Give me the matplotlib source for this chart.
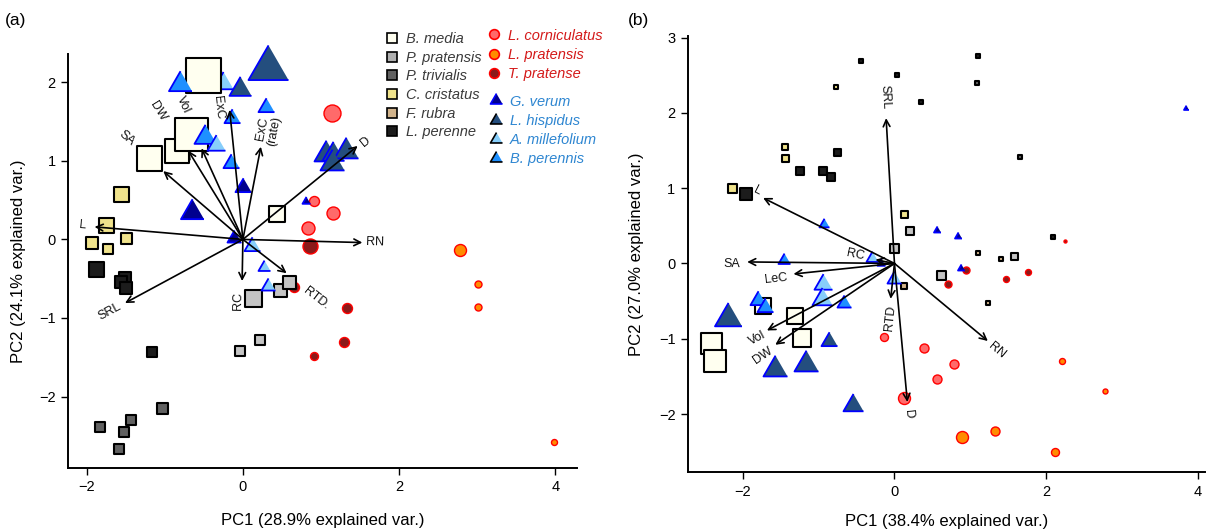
import numpy as np
import matplotlib
matplotlib.use("Agg")
import matplotlib.pyplot as plt
from matplotlib.lines import Line2D

plt.rcParams['font.family'] = ['Liberation Sans', 'DejaVu Sans']

# ---- panel (a): species code, PC1, PC2, marker width (px)
a_sp = ['Lc', 'Lc', 'Lc', 'Lc',
        'Lpr', 'Lpr', 'Lpr', 'Lpr',
        'Tp', 'Tp', 'Tp', 'Tp', 'Tp',
        'Am',
        'Bm', 'Bm', 'Bm', 'Bm', 'Bm',
        'Pp', 'Pp', 'Pp', 'Pp', 'Pp',
        'Pt', 'Pt', 'Pt', 'Pt', 'Pt',
        'Cc', 'Cc', 'Cc', 'Cc', 'Cc',
        'Lpe', 'Lpe', 'Lpe', 'Lpe', 'Lpe',
        'Bp', 'Bp', 'Bp', 'Bp', 'Bp',
        'Lh', 'Lh', 'Lh', 'Lh', 'Lh', 'Lh',
        'Am', 'Am', 'Am', 'Am',
        'Gv', 'Gv', 'Gv', 'Gv']
a_x = [1.14, 0.91, 1.16, 0.83,
       2.78, 3.01, 3.01, 3.98,
       0.86, 0.66, 1.33, 1.30, 0.91,
       -0.26,
       -0.51, -0.84, -0.67, -1.20, 0.44,
       0.13, 0.47, 0.59, 0.22, -0.04,
       -1.83, -1.59, -1.52, -1.43, -1.03,
       -1.56, -1.75, -1.93, -1.73, -1.50,
       -1.88, -1.51, -1.56, -1.50, -1.16,
       -0.80, 0.30, -0.14, -0.48, -0.15,
       -0.04, 0.32, 1.07, 1.15, 1.32, 1.14,
       -0.34, 0.12, 0.27, 0.32,
       0.00, -0.65, 0.81, -0.12]
a_y = [1.61, 0.49, 0.34, 0.15,
       -0.13, -0.57, -0.86, -2.58,
       -0.09, -0.60, -0.87, -1.31, -1.48,
       1.99,
       2.09, 1.13, 1.34, 1.04, 0.33,
       -0.74, -0.65, -0.54, -1.28, -1.42,
       -2.39, -2.67, -2.45, -2.30, -2.14,
       0.58, 0.19, -0.04, -0.12, 0.02,
       -0.38, -0.49, -0.54, -0.62, -1.43,
       1.98, 1.69, 1.54, 1.31, 0.97,
       1.91, 2.18, 1.09, 1.09, 1.12, 0.97,
       1.20, -0.09, -0.35, -0.59,
       0.67, 0.35, 0.49, 0.02]
a_w = [17, 10, 13, 13,
       12, 7, 7, 6,
       15, 10, 10, 10, 8,
       20,
       35, 24, 33, 25, 16,
       17, 13, 13, 10, 10,
       10, 10, 10, 10, 11,
       15, 15, 12, 10, 11,
       15, 12, 12, 12, 10,
       23, 16, 16, 22, 16,
       22, 40, 24, 22, 24, 24,
       18, 16, 12, 14,
       16, 23, 8, 14]

a_vars = ['L', 'SA', 'DW', 'Vol', 'ExC', 'ExC\n(rate)', 'D', 'RN', 'RTD.', 'RC', 'SRL']
a_vx = [-1.90, -1.02, -0.70, -0.53, -0.17, 0.23, 1.47, 1.53, 0.56, -0.01, -1.51]
a_vy = [0.16, 0.87, 1.13, 1.16, 1.65, 1.18, 1.19, -0.04, -0.43, -0.53, -0.81]
a_lx = [-2.05, -1.49, -1.09, -0.77, -0.32, 0.32, 1.57, 1.69, 0.94, -0.06, -1.71]
a_ly = [0.18, 1.29, 1.63, 1.71, 1.68, 1.39, 1.24, -0.03, -0.75, -0.78, -0.92]

# ---- panel (b)
b_sp = ['Lc', 'Lc', 'Lc', 'Lc', 'Lc',
        'Lpr', 'Lpr', 'Lpr', 'Lpr', 'Lpr',
        'Tp', 'Tp', 'Tp', 'Tp', 'Tp',
        'Lpe', 'Lpe', 'Lpe', 'Lpe', 'Lpe',
        'Pt', 'Pt',
        'Cc', 'Cc', 'Cc', 'Cc', 'Cc',
        'Lpe', 'Lpe', 'Lpe', 'Lpe', 'Lpe',
        'Pp', 'Pp', 'Pp', 'Pp',
        'Fr', 'Fr', 'Fr', 'Fr',
        'Bm', 'Bm', 'Bm', 'Bm', 'Bm',
        'Gv', 'Gv', 'Gv', 'Gv', 'Gv',
        'Bp', 'Bp', 'Bp', 'Bp', 'Bp',
        'Am', 'Am', 'Am', 'Am',
        'Lh', 'Lh', 'Lh', 'Lh', 'Lh']
b_x = [-0.14, 0.39, 0.78, 0.56, 0.12,
       2.21, 2.77, 0.89, 1.32, 2.11,
       0.94, 0.70, 1.47, 1.76, 2.25,
       -0.44, 0.04, 0.35, 1.10, 2.09,
       1.09, 1.65,
       -0.77, -1.44, -1.44, -2.14, 0.12,
       -1.24, -0.94, -0.83, -0.76, -1.95,
       0.20, 0.00, 1.58, 0.61,
       1.10, 1.40, 0.13, 1.23,
       -1.73, -1.31, -1.22, -2.41, -2.37,
       0.56, 0.84, 0.88, 3.84, -0.18,
       -0.93, -1.46, -0.67, -1.80, -1.70,
       -0.30, -0.01, -0.94, -0.96,
       -2.19, -0.86, -1.57, -1.16, -0.55]
b_y = [-0.98, -1.12, -1.34, -1.53, -1.79,
       -1.29, -1.69, -2.31, -2.22, -2.51,
       -0.09, -0.27, -0.20, -0.12, 0.30,
       2.69, 2.50, 2.15, 2.75, 0.35,
       2.39, 1.41,
       2.34, 1.55, 1.40, 1.00, 0.66,
       1.23, 1.23, 1.15, 1.48, 0.92,
       0.43, 0.20, 0.10, -0.16,
       0.14, 0.06, -0.30, -0.53,
       -0.56, -0.70, -0.99, -1.05, -1.30,
       0.45, 0.37, -0.06, 2.06, 0.00,
       0.52, 0.05, -0.52, -0.48, -0.58,
       0.07, -0.21, -0.27, -0.47,
       -0.72, -1.03, -1.40, -1.34, -1.88]
b_w = [8, 9, 9, 9, 12,
       6, 5, 12, 9, 8,
       7, 7, 6, 6, 3,
       4, 4, 4, 4, 4,
       5, 4,
       4, 6, 7, 9, 7,
       8, 8, 8, 7, 12,
       8, 9, 7, 9,
       5, 4, 6, 5,
       16, 16, 18, 21, 23,
       7, 7, 7, 5, 8,
       10, 12, 14, 16, 16,
       12, 14, 18, 20,
       27, 16, 24, 24, 20]

b_vars = ['SRL', 'L', 'SA', 'LeC', 'Vol', 'DW', 'RC', 'RTD', 'D', 'RN']
b_vx = [-0.11, -1.73, -1.94, -1.33, -1.68, -1.57, -0.25, -0.05, 0.17, 1.23]
b_vy = [1.93, 0.87, 0.02, -0.14, -0.89, -1.08, 0.05, -0.47, -1.84, -1.03]
b_lx = [-0.13, -1.81, -2.14, -1.56, -1.81, -1.73, -0.52, -0.06, 0.19, 1.35]
b_ly = [2.21, 0.96, -0.01, -0.20, -1.00, -1.23, 0.11, -0.72, -2.00, -1.16]

sq_names = ['B. media', 'P. pratensis', 'P. trivialis', 'C. cristatus', 'F. rubra', 'L. perenne']
sq_codes = ['Bm', 'Pp', 'Pt', 'Cc', 'Fr', 'Lpe']
ci_names = ['L. corniculatus', 'L. pratensis', 'T. pratense']
ci_codes = ['Lc', 'Lpr', 'Tp']
tr_names = ['G. verum', 'L. hispidus', 'A. millefolium', 'B. perennis']
tr_codes = ['Gv', 'Lh', 'Am', 'Bp']

TRI = [(0, 0.577), (-0.5, -0.289), (0.5, -0.289)]
style = {
    'Bm': ('s', '#FFFFF0', 'black', 1.5),
    'Pp': ('s', '#C4C4C4', 'black', 1.5),
    'Pt': ('s', '#616161', 'black', 1.5),
    'Cc': ('s', '#F0E38C', 'black', 1.5),
    'Fr': ('s', '#D2B48C', 'black', 1.5),
    'Lpe': ('s', '#1C1C1C', 'black', 1.5),
    'Lc': ('o', '#FF6A6A', '#FF0000', 1.0),
    'Lpr': ('o', '#FF8C00', '#FF0000', 1.0),
    'Tp': ('o', '#8B1A1A', '#FF0000', 1.0),
    'Gv': (TRI, '#00008F', '#0000FF', 1.3),
    'Lh': (TRI, '#244E7E', '#0000FF', 1.3),
    'Am': (TRI, '#87CEFA', '#0000FF', 1.3),
    'Bp': (TRI, '#1E90FF', '#0000FF', 1.3),
}


def draw_points(ax, sp, xs, ys, ws):
    for i in range(len(xs)):
        mk, fc, ec, lw = style[sp[i]]
        w = ws[i] * 0.72
        if mk is TRI:
            w = w / 0.866
        ax.scatter(xs[i], ys[i], s=w ** 2, marker=mk, facecolor=fc,
                   edgecolor=ec, linewidths=lw, zorder=2 + i * 0.01,
                   clip_on=False)


def draw_arrows(ax, names, vx, vy, lx, ly):
    for i in range(len(names)):
        ax.annotate('', xy=(vx[i], vy[i]), xytext=(0, 0),
                    arrowprops=dict(arrowstyle='->', color='black', lw=1.2,
                                    mutation_scale=12, shrinkA=0, shrinkB=0),
                    zorder=5)
        ang = np.degrees(np.arctan(vy[i] / vx[i]))
        ax.text(lx[i], ly[i], names[i], rotation=ang, rotation_mode='anchor',
                ha='center', va='center', fontsize=9, color='#111111',
                multialignment='center', linespacing=1.0, zorder=6)


def style_axes(ax):
    for s in ['top', 'right']:
        ax.spines[s].set_visible(False)
    for s in ['left', 'bottom']:
        ax.spines[s].set_linewidth(1.4)
    ax.tick_params(direction='out', length=5, width=1, labelsize=10.5, pad=4)


fig = plt.figure(figsize=(12.08, 5.3), dpi=100)

ax1 = fig.add_axes([0.0563, 0.117, 0.4214, 0.781])
draw_points(ax1, a_sp, a_x, a_y, a_w)
draw_arrows(ax1, a_vars, a_vx, a_vy, a_lx, a_ly)
ax1.set_xlim(-2.24, 4.28)
ax1.set_ylim(-2.91, 2.36)
ax1.set_xticks([-2, 0, 2, 4])
ax1.set_yticks([-2, -1, 0, 1, 2])
style_axes(ax1)
ax1.set_xlabel('PC1 (28.9% explained var.)', fontsize=12, labelpad=13)
ax1.set_ylabel('PC2 (24.1% explained var.)', fontsize=12, labelpad=9)

ax2 = fig.add_axes([0.5695, 0.1094, 0.428, 0.8226])
draw_points(ax2, b_sp, b_x, b_y, b_w)
draw_arrows(ax2, b_vars, b_vx, b_vy, b_lx, b_ly)
ax2.set_xlim(-2.72, 4.09)
ax2.set_ylim(-2.77, 3.02)
ax2.set_xticks([-2, 0, 2, 4])
ax2.set_yticks([-2, -1, 0, 1, 2, 3])
style_axes(ax2)
ax2.set_xlabel('PC1 (38.4% explained var.)', fontsize=12, labelpad=11)
ax2.set_ylabel('PC2 (27.0% explained var.)', fontsize=12, labelpad=10.5)

fig.text(0.004, 0.962, '(a)', fontsize=12.5, va='center')
fig.text(0.52, 0.962, '(b)', fontsize=12.5, va='center')


def handles(codes, names):
    hs = []
    for c, n in zip(codes, names):
        mk, fc, ec, lw = style[c]
        if mk is TRI:
            ec = '#0000FF' if c == 'Gv' else 'black'
            ms = 10
        elif mk == 's':
            ms = 6.5
        else:
            ms = 7
        if c == 'Pp':
            fc = '#B0B0B0'
        hs.append(Line2D([], [], linestyle='none', marker=mk, markersize=ms,
                         markerfacecolor=fc, markeredgecolor=ec,
                         markeredgewidth=1.2, label=n))
    return hs


leg_kw = dict(frameon=False, loc='upper left', borderpad=0, borderaxespad=0,
              handlelength=1.0, handletextpad=0.45,
              prop={'style': 'italic', 'size': 10.5},
              bbox_transform=fig.transFigure)
l1 = ax1.legend(handles=handles(sq_codes, sq_names), labelcolor='#3A3A3A',
                labelspacing=0.32,
                bbox_to_anchor=(384.5 / 1208, 1 - 32 / 530), **leg_kw)
ax1.add_artist(l1)
l2 = ax1.legend(handles=handles(ci_codes, ci_names), labelcolor='#D41A1A',
                labelspacing=0.37,
                bbox_to_anchor=(486.5 / 1208, 1 - 28.5 / 530), **leg_kw)
ax1.add_artist(l2)
l3 = ax1.legend(handles=handles(tr_codes, tr_names), labelcolor='#2E86D1',
                labelspacing=0.35,
                bbox_to_anchor=(489 / 1208, 1 - 94.5 / 530), **leg_kw)

fig.savefig('out.png', dpi=100)
